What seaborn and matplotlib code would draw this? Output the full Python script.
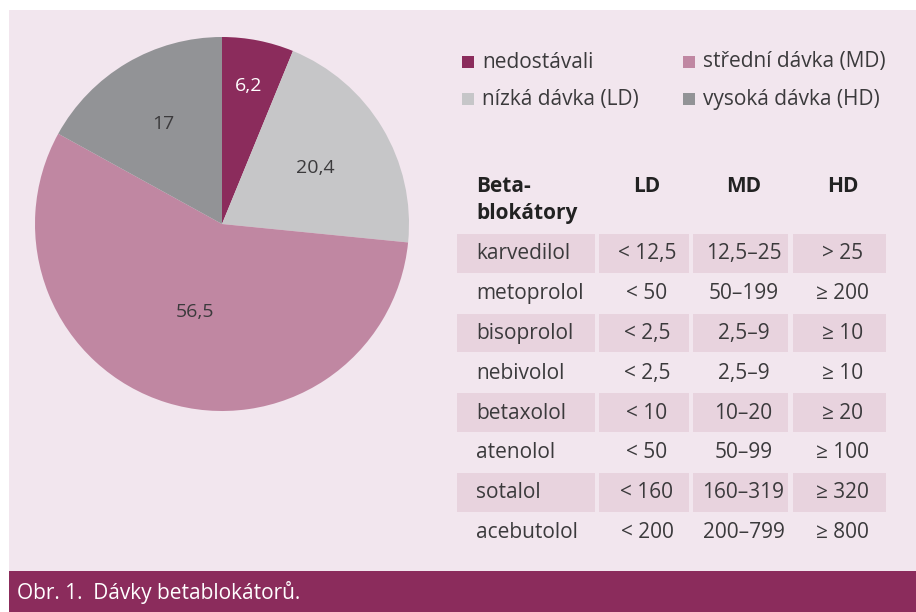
import numpy as np
import matplotlib.pyplot as plt
from matplotlib.patches import Rectangle
import seaborn as sns

# pie data (percent of patients)
groups = ["nedostávali", "nízká dávka (LD)", "střední dávka (MD)", "vysoká dávka (HD)"]
shares = [6.2, 20.4, 56.5, 17.0]
share_labels = ["6,2", "20,4", "56,5", "17"]
colors = ["#8b2c5c", "#c6c6c8", "#c087a2", "#929396"]

# dose table
drugs = ["karvedilol", "metoprolol", "bisoprolol", "nebivolol",
         "betaxolol", "atenolol", "sotalol", "acebutolol"]
ld = ["< 12,5", "< 50", "< 2,5", "< 2,5", "< 10", "< 50", "< 160", "< 200"]
md = ["12,5–25", "50–199", "2,5–9", "2,5–9", "10–20", "50–99", "160–319", "200–799"]
hd = ["> 25", "≥ 200", "≥ 10", "≥ 10", "≥ 20", "≥ 100", "≥ 320", "≥ 800"]

sns.set_theme(style="white")
plt.rcParams["font.family"] = ["Open Sans", "DejaVu Sans"]

BG = "#f2e6ee"
CELL = "#e8d3de"
TXT = "#3b3a3c"
FS = 15
W, H = 916, 612

fig = plt.figure(figsize=(W / 100, H / 100), dpi=100)
fig.patch.set_facecolor("white")

# full-figure axes in pixel coordinates
base = fig.add_axes([0, 0, 1, 1])
base.set_xlim(0, W)
base.set_ylim(H, 0)
base.axis("off")
base.add_patch(Rectangle((9, 10), W - 9, 561, color=BG, lw=0))
base.add_patch(Rectangle((9, 571), W - 9, 41, color="#8b2c5c", lw=0))
base.text(17, 592, "Obr. 1.  Dávky betablokátorů.", color="white",
          fontsize=FS, va="center", ha="left")

# legend
leg_x = [462, 683]
leg_y = [62, 99]
for i, (g, c) in enumerate(zip(groups, colors)):
    col, row = [(0, 0), (0, 1), (1, 0), (1, 1)][i]
    x, y = leg_x[col], leg_y[row]
    base.add_patch(Rectangle((x, y - 6), 12, 12, color=c, lw=0))
    base.text(x + 20, y, g, color=TXT, fontsize=FS, va="center", ha="left")

# table
col_l = [457, 599, 693, 793]
col_r = [595, 689, 788, 886]
row_top = 234
row_h = 39.8
base.text(476, 186, "Beta-", fontsize=FS, fontweight="bold", color="#222",
          va="center")
base.text(476, 213, "blokátory", fontsize=FS, fontweight="bold", color="#222",
          va="center")
for j, hname in enumerate(["LD", "MD", "HD"]):
    base.text((col_l[j + 1] + col_r[j + 1]) / 2 + 3, 186, hname, fontsize=FS,
              fontweight="bold", color="#222", va="center", ha="center")

for i, (d, a, b, c) in enumerate(zip(drugs, ld, md, hd)):
    y0 = row_top + i * row_h
    yc = y0 + row_h / 2
    if i % 2 == 0:
        for l, r in zip(col_l, col_r):
            base.add_patch(Rectangle((l, y0), r - l, row_h - 1, color=CELL, lw=0))
    base.text(476, yc, d, fontsize=FS, color=TXT, va="center", ha="left")
    for j, v in enumerate([a, b, c]):
        base.text((col_l[j + 1] + col_r[j + 1]) / 2 + 3, yc, v, fontsize=FS,
                  color=TXT, va="center", ha="center")

# pie
cx, cy, R = 222, 224, 187
pax = fig.add_axes([(cx - R) / W, (H - cy - R) / H, 2 * R / W, 2 * R / H])
wedges, _ = pax.pie(shares, colors=colors, startangle=90, counterclock=False,
                    radius=1, wedgeprops=dict(linewidth=0))
pax.set_xlim(-1, 1)
pax.set_ylim(-1, 1)
pax.set_aspect("equal")
label_r = [0.75, 0.58, 0.49, 0.62]
label_c = ["white", TXT, TXT, TXT]
for w, s, r, c in zip(wedges, share_labels, label_r, label_c):
    ang = np.deg2rad((w.theta1 + w.theta2) / 2)
    pax.text(r * np.cos(ang), r * np.sin(ang), s, color=c, fontsize=14,
             ha="center", va="center")

fig.savefig("out.png", dpi=100, facecolor=fig.get_facecolor())
